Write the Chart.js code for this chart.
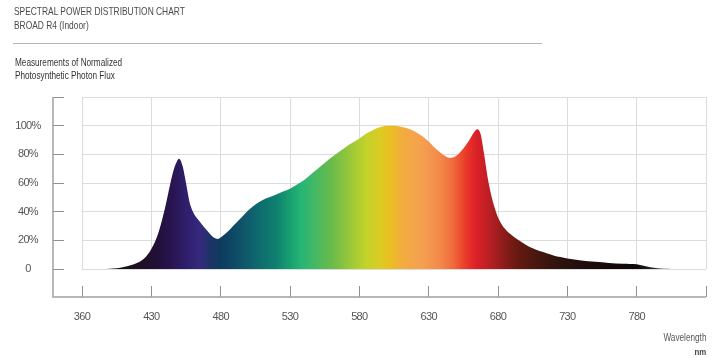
<!DOCTYPE html>
<html><head><meta charset="utf-8">
<script src="https://cdn.jsdelivr.net/npm/chart.js@4"></script>
<style>
html,body{margin:0;padding:0;background:#fff;}
#wrap{position:relative;width:720px;height:358px;overflow:hidden;font-family:"Liberation Sans",Arial,sans-serif;color:#555;}
#wrap canvas{position:absolute;left:0;top:0;}
.t{position:absolute;white-space:nowrap;line-height:1;transform:scaleX(0.82);transform-origin:0 50%;}
.h{transform:scaleX(0.8);}
.r{transform-origin:100% 50%;}
.rule{position:absolute;left:13px;top:43px;width:529px;height:0;border-top:1.5px solid #b4b4b4;}
</style></head>
<body><div id="wrap">
<canvas id="c" width="720" height="358"></canvas>
<div class="t h" style="left:14px;top:6px;font-size:10.5px;color:#4a4a4a;">SPECTRAL POWER DISTRIBUTION CHART</div>
<div class="t h" style="left:14px;top:20px;font-size:10.5px;color:#4a4a4a;">BROAD R4 (Indoor)</div>
<div class="rule"></div>
<div class="t" style="left:15px;top:58px;font-size:10px;color:#333;">Measurements of Normalized</div>
<div class="t" style="left:15px;top:71px;font-size:10px;color:#333;">Photosynthetic Photon Flux</div>
<div class="t r" style="right:14px;top:333px;font-size:10px;color:#555;text-align:right;">Wavelength</div>
<div class="t r" style="right:14px;top:347px;font-size:9.5px;font-weight:bold;color:#444;text-align:right;">nm</div>
</div>
<script>
// ---- data ----
const wavelengths = [380,385,390,395,400,405,410,415,420,425,430,435,440,445,447.5,450,452.5,455,457.5,460,465,470,475,478,480,485,490,495,500,505,510,515,520,525,530,535,540,545,550,555,560,565,570,575,580,585,590,595,600,605,610,615,620,625,630,635,640,645,650,655,660,662.5,665,667.5,670,672.5,675,677.5,680,685,690,695,700,705,710,715,720,725,730,740,750,760,770,780,785,790,795,800,805,830];
const flux = [0,0,0,0,0.2,0.6,1.4,2.6,4.3,7.5,14,25,43,65,73,77,72,60,47,40,33,27,22,21,22,26,31,36,41,45,48,50,52,54,56,59,62,66,70,74,78,81.5,85,88,91,94.5,97,99,100,100,99.3,98,96,93,89,84,80,77.5,79,84,91,95,97.5,94,80,64,52,43,36,28,23.5,20,17,14.5,12.5,11,9.5,8.3,7.3,6,5,4.2,3.7,3.3,2.3,1.2,0.5,0.1,0,0];
const xTickLabels = ['360','430','480','530','580','630','680','730','780',''];
const yTickLabels = ['0','20%','40%','60%','80%','100%',''];
const spectrumStops = [
  [385,'#1a1418'],[420,'#1c1020'],[435,'#22103a'],[445,'#281450'],[455,'#2e1f6c'],[465,'#36297e'],
  [472,'#1e3368'],[480,'#0d3b5e'],[490,'#0e4a66'],[500,'#0f5d6c'],[510,'#0f6f6e'],[520,'#0f8070'],
  [530,'#18a070'],[538,'#25b575'],[548,'#45b865'],[560,'#6abb4a'],[572,'#95c63c'],[585,'#c3d32a'],
  [595,'#dccb22'],[602,'#eabf22'],[612,'#f3ab40'],[625,'#f5a050'],[638,'#f38a4a'],[648,'#f0693a'],
  [656,'#ea3e2a'],[664,'#dc2027'],[672,'#c02025'],[682,'#961d1c'],[692,'#6e1a12'],[705,'#4d1810'],
  [720,'#33140f'],[745,'#1c0c0a'],[780,'#0e0808'],[800,'#404040']
];

const fontFam = '"Liberation Sans",Arial,sans-serif';

function spectrumFill(context){
  const chart = context.chart;
  const {ctx, chartArea, scales} = chart;
  if (!chartArea) return '#000';
  const x0 = chartArea.left, x1 = chartArea.right;
  const g = ctx.createLinearGradient(x0, 0, x1, 0);
  spectrumStops.forEach(([wl, col]) => {
    const p = (scales.x.getPixelForValue(wl) - x0) / (x1 - x0);
    g.addColorStop(Math.min(1, Math.max(0, p)), col);
  });
  return g;
}

const condensePlugin = {
  id: 'condense',
  beforeDraw(chart){ try { chart.ctx.letterSpacing = '-0.7px'; } catch(e) {} }
};

const framePlugin = {
  id: 'frame',
  afterDraw(chart){
    const {ctx, chartArea, scales:{x, y}} = chart;
    const left = y.right - y.options.grid.tickLength;
    const bottom = x.top + x.options.grid.tickLength;
    ctx.save();
    ctx.strokeStyle = '#a0a0a0';
    ctx.lineWidth = 1.5;
    ctx.beginPath();
    ctx.moveTo(left, chartArea.top);
    ctx.lineTo(left, bottom);
    ctx.lineTo(chartArea.right, bottom);
    ctx.stroke();
    ctx.restore();
  }
};

new Chart(document.getElementById('c'), {
  type: 'line',
  data: {
    datasets: [{
      data: wavelengths.map((w, i) => ({x: w, y: flux[i]})),
      fill: 'origin',
      backgroundColor: spectrumFill,
      borderWidth: 0,
      pointRadius: 0,
      cubicInterpolationMode: 'monotone'
    }]
  },
  options: {
    responsive: false,
    animation: false,
    devicePixelRatio: 1,
    layout: {padding: {top: 97, right: 14, bottom: 0, left: 0}},
    plugins: {legend: {display: false}, tooltip: {enabled: false}},
    scales: {
      x: {
        type: 'linear', min: 380, max: 830,
        afterFit(s){ s.height = 89; },
        border: {display: false},
        grid: {color: '#dcdcdc', lineWidth: 1, tickLength: 28, tickColor: '#909090', tickWidth: 1, tickBorderDash: [0, 17, 11, 1000]},
        ticks: {stepSize: 50, padding: 13, color: '#555', font: {family: fontFam, size: 11},
          maxRotation: 0, autoSkip: false,
          callback: (v, i) => xTickLabels[i]}
      },
      y: {
        min: 0, max: 120,
        afterFit(s){ s.width = 82; },
        border: {display: false},
        grid: {color: '#dcdcdc', lineWidth: 1, tickLength: 29, tickColor: '#909090', tickWidth: 1, tickBorderDash: [11, 1000]},
        ticks: {stepSize: 20, padding: 11, crossAlign: 'center', color: '#555', font: {family: fontFam, size: 11},
          callback: (v, i) => yTickLabels[i]}
      }
    }
  },
  plugins: [condensePlugin, framePlugin]
});
</script>
</body></html>
